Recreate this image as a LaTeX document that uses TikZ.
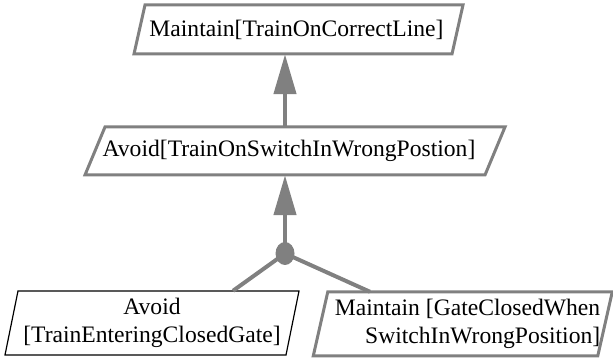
\documentclass[tikz,border=0pt]{standalone}
\usepackage{fontspec}
\setmainfont{Liberation Serif}
\usetikzlibrary{arrows.meta,calc,shapes.geometric}

\definecolor{goalgray}{RGB}{128,128,128}

% slanted goal frame around a node: node, style, x offset, width, height, slant
\newcommand\slantframe[6]{%
  \draw[#2] ($(#1.center)+(#3-#4/2+#6/2,#5/2)$) -- ++(#4,0) -- ++(-#6,-#5) -- ++(-#4,0) -- cycle;}

\tikzset{
  goaltext/.style={inner sep=0pt, font=\fontsize{23.6}{28}\selectfont},
  goalframe/.style={draw=goalgray, line width=3pt, line join=miter},
  agentframe/.style={draw=black, line width=1.2pt, line join=miter},
  refine/.style={draw=goalgray, line width=4.5pt, -{Triangle[width=22pt,length=40pt]}, color=goalgray},
  link/.style={draw=goalgray, line width=4pt},
  andnode/.style={ellipse, fill=goalgray, minimum width=19pt, minimum height=23pt, inner sep=0pt}
}

\begin{document}
\begin{tikzpicture}[x=1pt,y=1pt]
  \useasboundingbox (0,0) rectangle (613,358);

  % goals
  \node[goaltext, minimum height=49pt] (A) at (296.5,328.5) {Maintain[TrainOnCorrectLine]};
  \node[goaltext, minimum height=48pt] (B) at (289,207) {Avoid[TrainOnSwitchInWrongPostion]};
  \node[goaltext, minimum height=64pt, align=center] (C) at (152,35) {Avoid\\{}[TrainEnteringClosedGate]};
  \node[goaltext, minimum height=64pt, align=right] (D) at (467.5,34) {Maintain [GateClosedWhen\\SwitchInWrongPosition]};

  \slantframe{A}{goalframe}{2}{318}{49}{11}
  \slantframe{B}{goalframe}{6}{400}{48}{20}
  \slantframe{C}{agentframe}{0}{281}{64}{13}
  \slantframe{D}{goalframe}{-4.75}{284.5}{64}{14.5}

  % AND refinement
  \node[andnode] (and) at (285,104.5) {};
  \draw[link] (and.center) -- ([xshift=81pt]C.north);
  \draw[link] (and.center) -- ([xshift=-97.5pt]D.north);
  \draw[refine] (and.center) -- (B.south -| and);
  \draw[refine] (B.north -| and) -- (A.south -| and);
\end{tikzpicture}
\end{document}
